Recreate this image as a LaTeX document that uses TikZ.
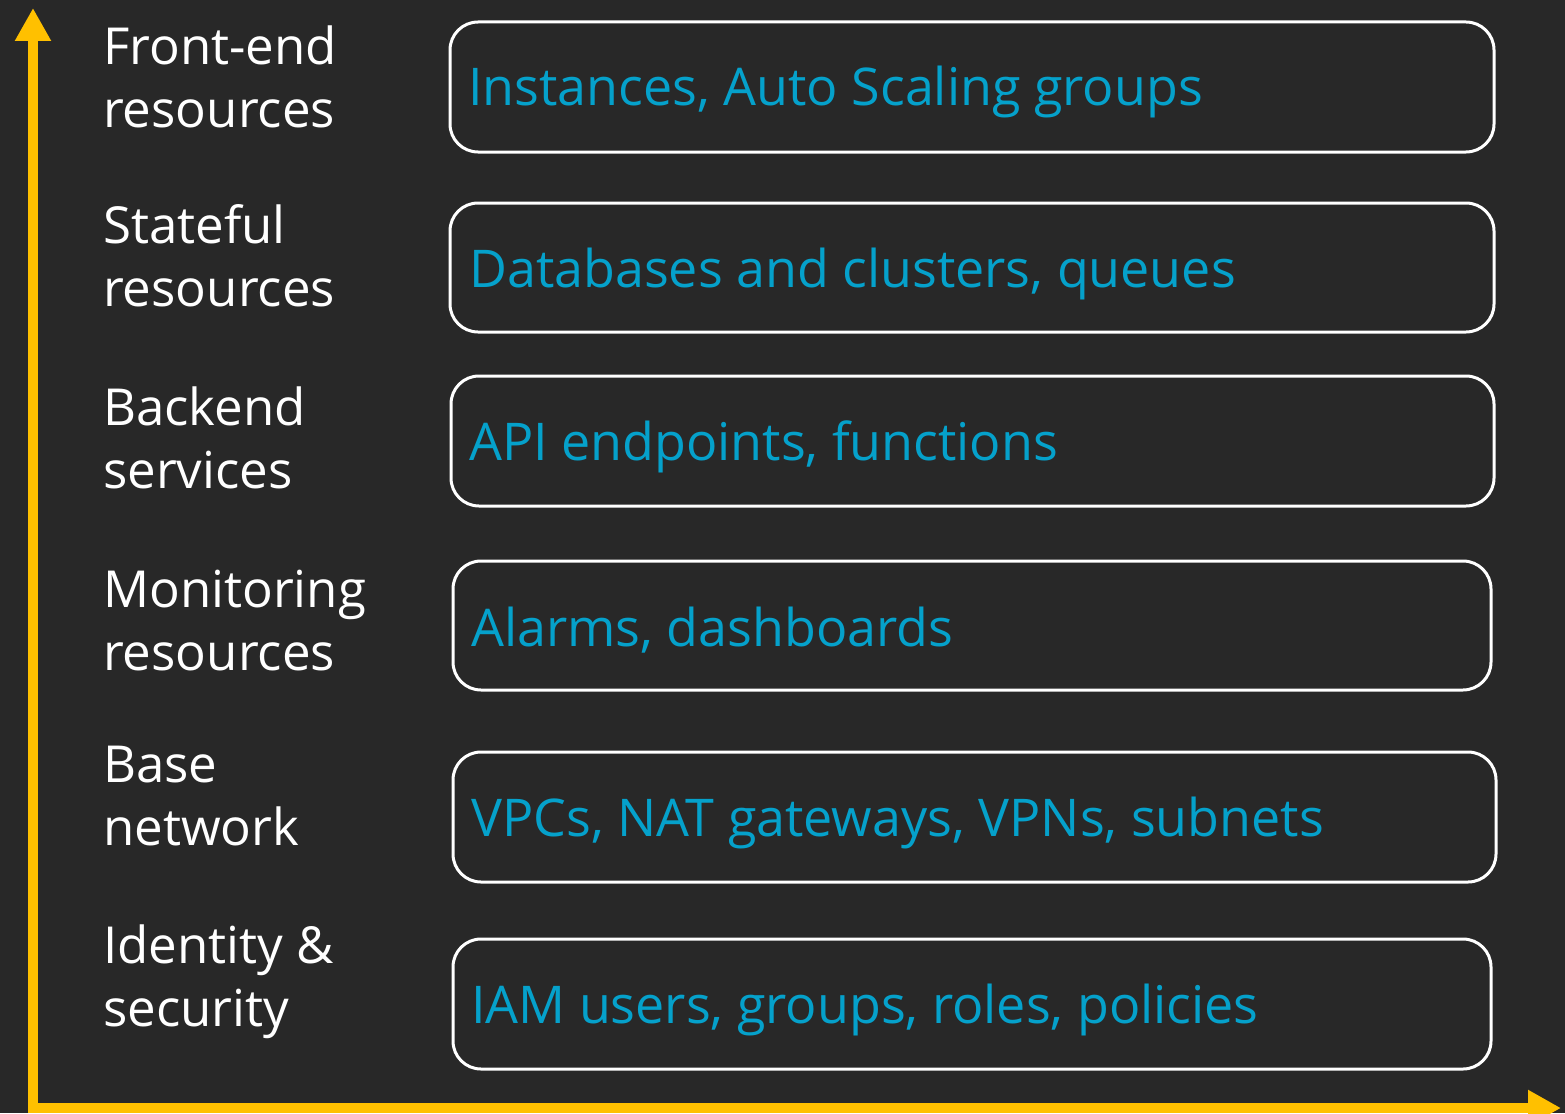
\documentclass[tikz,border=0pt]{standalone}
\usepackage{fontspec}
\setmainfont{Open Sans}
\usetikzlibrary{arrows.meta}
\definecolor{bg}{HTML}{282828}
\definecolor{axis}{HTML}{FFC000}
\definecolor{item}{HTML}{05A1CB}
\begin{document}
\begin{tikzpicture}[x=1pt,y=-1pt,
  layer/.style={draw=white,line width=3pt,rounded corners=28pt},
  cat/.style={anchor=base west,inner sep=0pt,text=white,font=\fontsize{51}{63}\selectfont},
  itemtxt/.style={anchor=base west,inner sep=0pt,text=item,font=\fontsize{52}{63}\selectfont},
  axisline/.style={draw=axis,line width=10pt,-{Triangle[length=33pt,width=34pt]}}]
\fill[bg] (0,0) rectangle (1565,1113);
\useasboundingbox (0,0) rectangle (1565,1113);
% axes
\coordinate (origin) at (33,1108);
\coordinate (ytip) at (33,8);
\coordinate (xtip) at (1561,1108);
\draw[axisline] (origin) ++(0,5) -- (ytip);
\draw[axisline] (origin) ++(-5,0) -- (xtip);
% layer boxes
\draw[layer] (450,22) rectangle (1494,152);
\draw[layer] (450,203) rectangle (1494,332);
\draw[layer] (451,376) rectangle (1494,506);
\draw[layer] (453,561) rectangle (1491,690);
\draw[layer] (453,752) rectangle (1496,882);
\draw[layer] (453,939) rectangle (1491,1069);
% box contents
\node[itemtxt] (i1) at (468,106) {Instances, Auto Scaling groups};
\node[itemtxt] (i2) at (469,287) {Databases and clusters, queues};
\node[itemtxt] (i3) at (469,460) {API endpoints, functions};
\node[itemtxt] (i4) at (471,646) {Alarms, dashboards};
\node[itemtxt] (i5) at (471,836) {VPCs, NAT gateways, VPNs, subnets};
\node[itemtxt] (i6) at (471,1023) {IAM users, groups, roles, policies};
% category labels
\node[cat] (c1a) at (103,65) {Front-end};
\node[cat] (c1b) at (103,128) {resources};
\node[cat] (c2a) at (103,243) {Stateful};
\node[cat] (c2b) at (103,306) {resources};
\node[cat] (c3a) at (103,425) {Backend};
\node[cat] (c3b) at (103,488) {services};
\node[cat] (c4a) at (103,607) {Monitoring};
\node[cat] (c4b) at (103,670) {resources};
\node[cat] (c5a) at (103,782) {Base};
\node[cat] (c5b) at (103,845) {network};
\node[cat] (c6a) at (103,963) {Identity \&};
\node[cat] (c6b) at (103,1026) {security};
\end{tikzpicture}
\end{document}
